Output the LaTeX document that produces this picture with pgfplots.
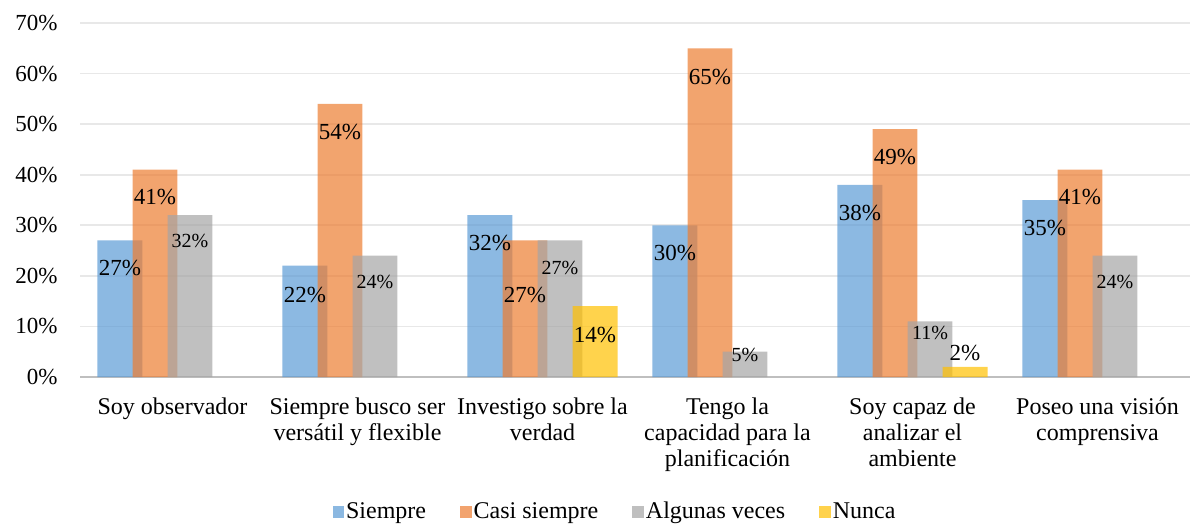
\documentclass[border=0pt]{standalone}
\usepackage{fontspec}
\setmainfont{Liberation Serif}
\usepackage{pgfplots}
\usepackage{pgfplotstable}
\pgfplotsset{compat=1.18}
\usetikzlibrary{calc}

\definecolor{cblue}{HTML}{5B9BD5}
\definecolor{corange}{HTML}{ED7D31}
\definecolor{cgray}{HTML}{A5A5A5}
\definecolor{cyellow}{HTML}{FFC000}

% x = category, y = value, ly = height of the data label
\pgfplotstableread{
x y ly
0 27 21.5
1 22 16.2
2 32 26.5
3 30 24.5
4 38 32.4
5 35 29.4
}\siempre
\pgfplotstableread{
x y ly
0 41 35.6
1 54 48.4
2 27 16.2
3 65 59.3
4 49 43.5
5 41 35.6
}\casi
\pgfplotstableread{
x y ly
0 32 26.9
1 24 18.8
2 27 21.5
3 5 4.3
4 11 8.7
5 24 18.8
}\algunas
\pgfplotstableread{
x y ly
2 14 8.3
4 2 4.7
}\nunca

\pgfplotsset{
  xbars/.style={ybar, bar width=0.243, draw=none, fill opacity=0.7,
    legend image code/.code={\fill[##1] (0pt,-2.9pt) rectangle (5.8pt,2.9pt);}},
  blabels/.style={draw=none, mark=none, forget plot, point meta=explicit,
    nodes near coords={\pgfmathprintnumber{\pgfplotspointmeta}\%},
    every node near coord/.append style={anchor=center, inner sep=0pt, text=black, font=#1}},
}

\begin{document}
\begin{tikzpicture}
\begin{axis}[
  scale only axis, width=555pt, height=177pt,
  xmin=-0.5, xmax=5.5, ymin=0, ymax=70,
  xtick={0,...,5},
  xticklabels={Soy observador, Siempre busco ser\\versátil y flexible, Investigo sobre la\\verdad, Tengo la\\capacidad para la\\planificación, Soy capaz de\\analizar el\\ambiente, Poseo una visión\\comprensiva},
  xticklabel style={align=center, anchor=north, inner sep=0pt, yshift=-10pt, font=\fontsize{12}{13}\selectfont},
  ytick={0,10,...,70},
  yticklabel={\pgfmathprintnumber{\tick}\%},
  yticklabel style={anchor=east, inner sep=0pt, xshift=-11pt, font=\fontsize{11.5}{13}\selectfont},
  /pgf/number format/assume math mode=true,
  major tick length=0pt,
  axis x line*=bottom, axis y line*=left,
  y axis line style={draw=none},
  x axis line style={draw=black!25, line width=1.2pt},
  ymajorgrids, grid style={black!9, line width=0.9pt},
  clip=false,
  legend columns=-1,
  legend style={at={(0.482,0)}, anchor=center, yshift=-67.5pt, draw=none,
    font=\fontsize{12}{13}\selectfont, nodes={inner sep=1pt},
    /tikz/every even column/.append style={column sep=16pt}},
]
\addplot[xbars, bar shift=-0.284, fill=cblue] table[x=x, y=y] {\siempre};
\addlegendentry{Siempre}
\addplot[xbars, bar shift=-0.0946, fill=corange] table[x=x, y=y] {\casi};
\addlegendentry{Casi siempre}
\addplot[xbars, bar shift=0.0946, fill=cgray] table[x=x, y=y] {\algunas};
\addlegendentry{Algunas veces}
\addplot[xbars, bar shift=0.284, fill=cyellow] table[x=x, y=y] {\nunca};
\addlegendentry{Nunca}

\addplot[blabels=\fontsize{11.5}{13}\selectfont] table[x expr=\thisrow{x}-0.284, y=ly, meta=y] {\siempre};
\addplot[blabels=\fontsize{11.5}{13}\selectfont] table[x expr=\thisrow{x}-0.0946, y=ly, meta=y] {\casi};
\addplot[blabels=\fontsize{10}{12}\selectfont] table[x expr=\thisrow{x}+0.0946, y=ly, meta=y] {\algunas};
\addplot[blabels=\fontsize{11.5}{13}\selectfont] table[x expr=\thisrow{x}+0.284, y=ly, meta=y] {\nunca};

\coordinate (bl) at (rel axis cs:0,0);
\coordinate (tr) at (rel axis cs:1,1);
\end{axis}
\pgfresetboundingbox
\path[use as bounding box] ($(bl)+(-40pt,-74pt)$) rectangle ($(tr)+(0.5pt,11.5pt)$);
\end{tikzpicture}
\end{document}
